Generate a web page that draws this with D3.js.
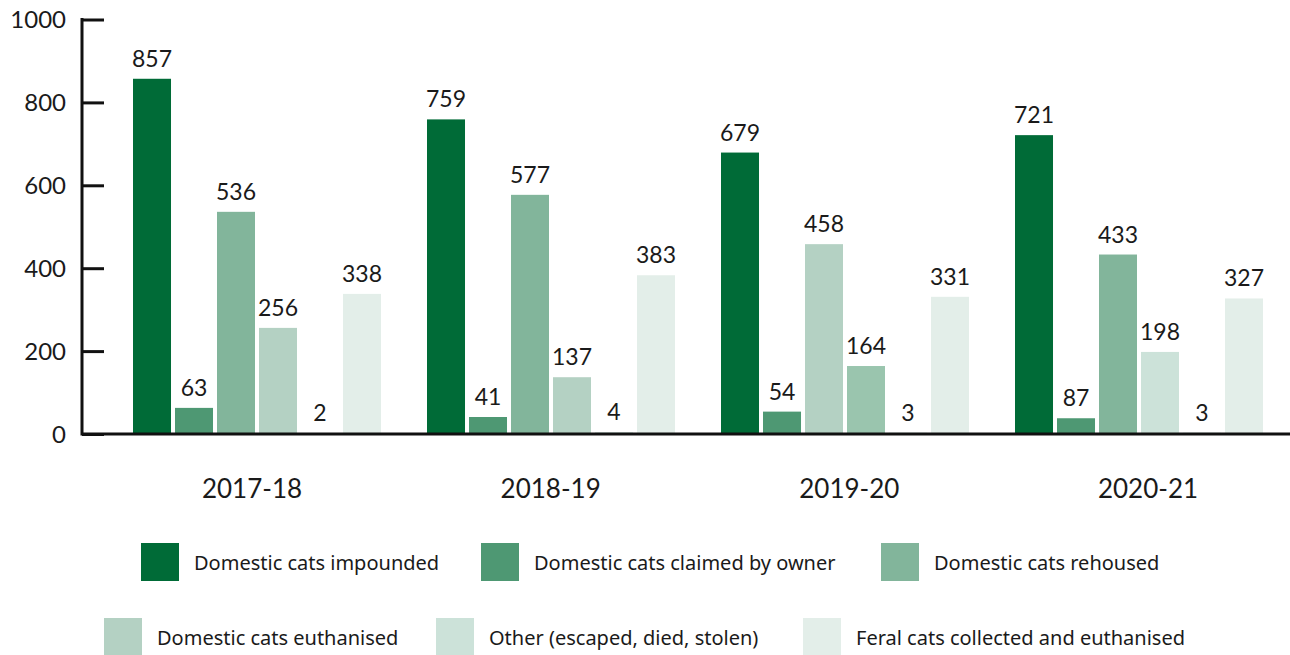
<!DOCTYPE html>
<html>
<head>
<meta charset="utf-8">
<script src="https://cdn.jsdelivr.net/npm/d3@7"></script>
<style>
  body { margin: 0; background: #fff; }
  svg { display: block; font-family: Lato, "Noto Sans", sans-serif; }
</style>
</head>
<body>
<div id="wrapper"></div>
<script>
const years = ["2017-18", "2018-19", "2019-20", "2020-21"]
const seriesNames = [
  "Domestic cats impounded",
  "Domestic cats claimed by owner",
  "Domestic cats rehoused",
  "Domestic cats euthanised",
  "Other (escaped, died, stolen)",
  "Feral cats collected and euthanised",
]
const impounded = [857, 759, 679, 721]
const claimed = [63, 41, 54, 87]
const rehoused = [536, 577, 458, 433]
const euthanised = [256, 137, 164, 198]
const other = [2, 4, 3, 3]
const feral = [338, 383, 331, 327]
// the printed bar for 2020-21 "claimed" stops well short of its 87 label
const claimedDrawn = [63, 41, 54, 38]
const yTicks = [0, 200, 400, 600, 800, 1000]

const colors = ["#006b37", "#4e9873", "#82b59b", "#b4d1c3", "#cce2d9", "#e3eee9"]
// bars in the source that don't use their legend colour
const colorOverrides = {
  "2019-20|2": "#b4d1c3",
  "2019-20|3": "#9ac5ae",
  "2020-21|3": "#cce2d9",
}

const seriesValues = [impounded, claimed, rehoused, euthanised, other, feral]
const seriesHeights = [impounded, claimedDrawn, rehoused, euthanised, other, feral]

const dataset = []
years.forEach((year, i) => {
  seriesNames.forEach((name, s) => {
    dataset.push({
      year, s,
      value: seriesValues[s][i],
      height: seriesHeights[s][i],
    })
  })
})

const dimensions = { width: 1290, height: 655 }
const axisX = 82
const baseY = 434

const wrapper = d3.select("#wrapper")
  .append("svg")
    .attr("width", dimensions.width)
    .attr("height", dimensions.height)

const yScale = d3.scaleLinear().domain([0, 1000]).range([baseY, 19.5])

const x0 = d3.scaleBand().domain(years).range([110, 1286])
const x1 = d3.scaleBand().domain(d3.range(6))
  .range([-124, 124]).paddingInner(0.095)
// category labels sit on a slightly wider spacing than the bar groups
const xLabels = d3.scalePoint().domain(years).range([252, 1148])

// bars
wrapper.append("g").selectAll("rect")
  .data(dataset)
  .join("rect")
    .attr("x", d => x0(d.year) + x0.bandwidth() / 2 + x1(d.s))
    .attr("width", x1.bandwidth())
    .attr("y", d => yScale(d.height))
    .attr("height", d => baseY - yScale(d.height))
    .attr("fill", d => colorOverrides[d.year + "|" + d.s] || colors[d.s])

// value labels
wrapper.append("g").selectAll("text")
  .data(dataset)
  .join("text")
    .attr("x", d => x0(d.year) + x0.bandwidth() / 2 + x1(d.s) + x1.bandwidth() / 2)
    .attr("y", d => yScale(d.height) - 12)
    .attr("text-anchor", "middle")
    .attr("font-size", 23)
    .attr("fill", "#1a1a1a")
    .text(d => d.value)

// y axis
const yAxis = d3.axisRight(yScale)
  .tickValues(yTicks)
  .tickSize(22)
  .tickFormat("")
const yAxisG = wrapper.append("g")
  .attr("transform", `translate(${axisX},0)`)
  .call(yAxis)
yAxisG.select(".domain").remove()
yAxisG.selectAll(".tick line").attr("stroke", "#111").attr("stroke-width", 3)
wrapper.append("line")
  .attr("x1", axisX).attr("x2", axisX)
  .attr("y1", yScale(1000) - 1.5).attr("y2", baseY + 1.5)
  .attr("stroke", "#111").attr("stroke-width", 3)

wrapper.append("g").selectAll("text")
  .data(yTicks)
  .join("text")
    .attr("x", 66)
    .attr("y", d => yScale(d))
    .attr("dy", "0.36em")
    .attr("text-anchor", "end")
    .attr("font-size", 24)
    .attr("fill", "#1a1a1a")
    .text(d => d)

// x axis
wrapper.append("line")
  .attr("x1", axisX).attr("x2", dimensions.width)
  .attr("y1", baseY).attr("y2", baseY)
  .attr("stroke", "#111").attr("stroke-width", 3)

wrapper.append("g").selectAll("text")
  .data(years)
  .join("text")
    .attr("x", d => xLabels(d))
    .attr("y", 498)
    .attr("text-anchor", "middle")
    .attr("font-size", 26)
    .attr("fill", "#1a1a1a")
    .text(d => d)

// legend
const legendPos = [
  { x: 141, y: 543 }, { x: 481, y: 543 }, { x: 881, y: 543 },
  { x: 104, y: 618 }, { x: 436, y: 618 }, { x: 803, y: 618 },
]
const legend = wrapper.append("g").selectAll("g")
  .data(seriesNames)
  .join("g")
    .attr("transform", (d, i) => `translate(${legendPos[i].x},${legendPos[i].y})`)
legend.append("rect")
  .attr("width", 38)
  .attr("height", 38)
  .attr("fill", (d, i) => colors[i])
legend.append("text")
  .attr("x", 53)
  .attr("y", 20)
  .attr("dy", "0.35em")
  .attr("font-family", "'Noto Sans', sans-serif")
  .attr("font-size", 20)
  .attr("fill", "#1a1a1a")
  .text(d => d)
</script>
</body>
</html>
